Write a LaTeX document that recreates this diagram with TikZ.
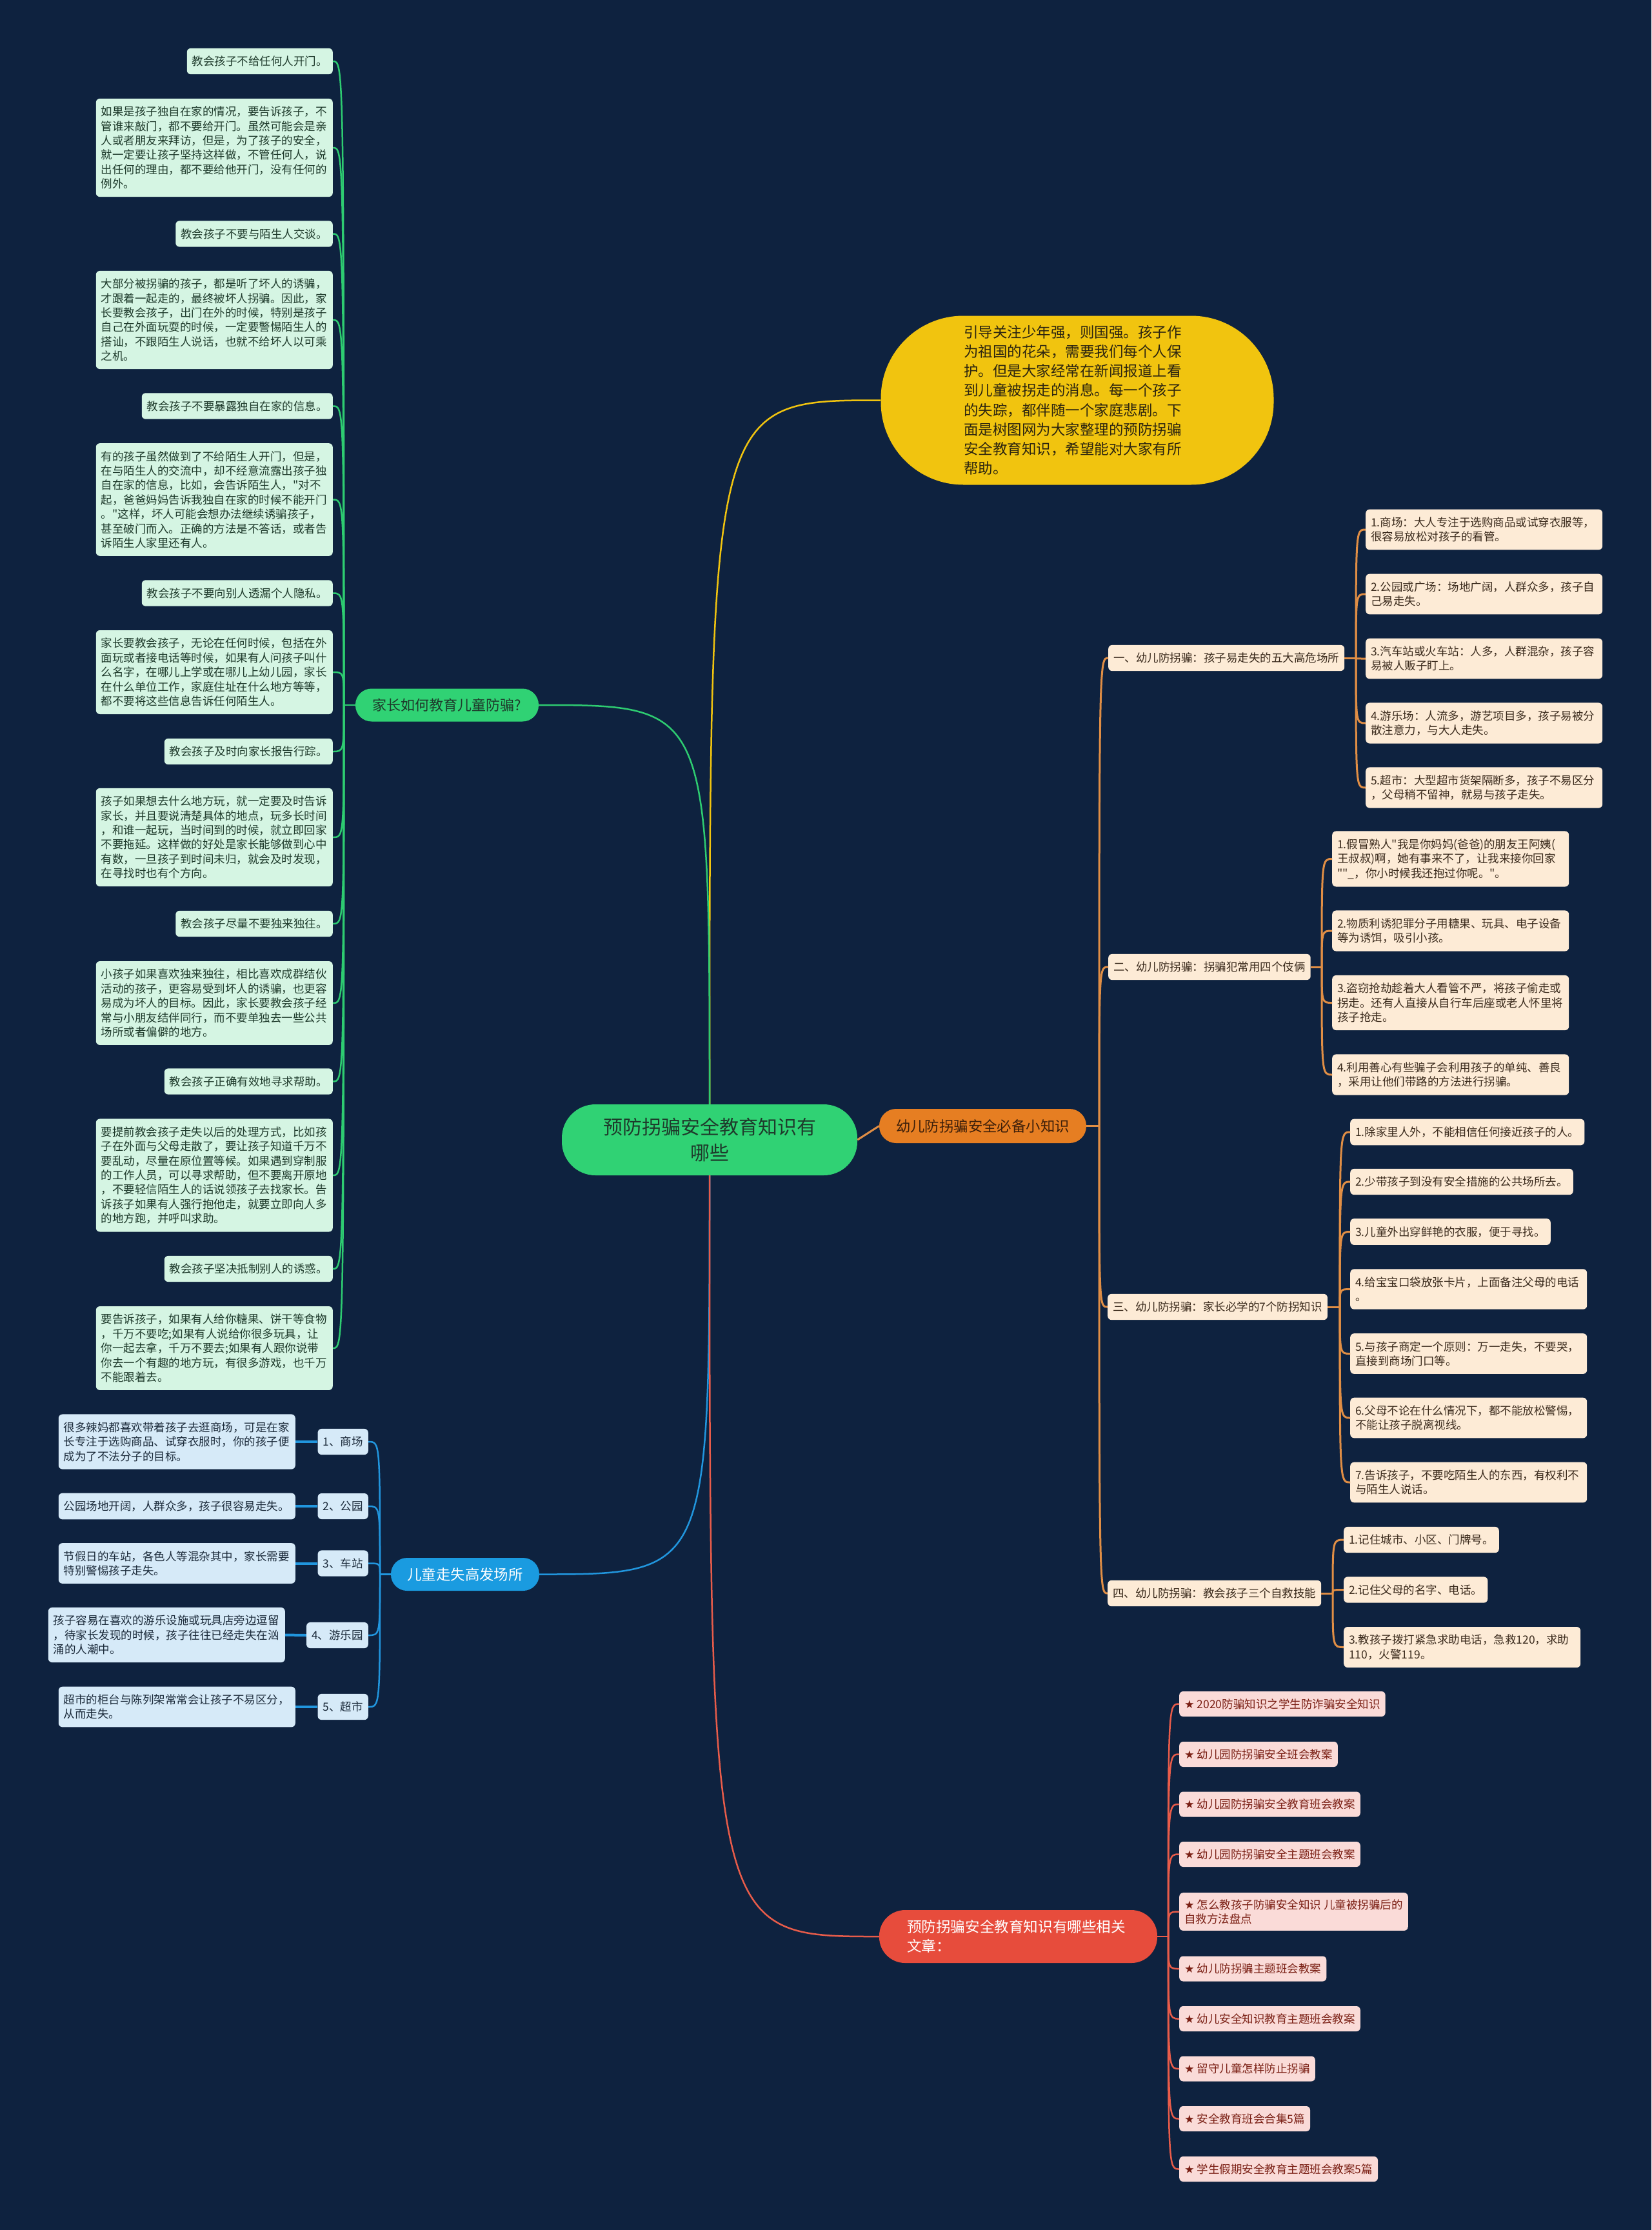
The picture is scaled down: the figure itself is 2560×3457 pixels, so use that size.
\documentclass[tikz,border=0pt]{standalone}
\usepackage{fontspec}
\newfontfamily\cjk{Noto Sans CJK SC}
\newfontfamily\symfont{DejaVu Sans}
\definecolor{bg}{HTML}{0E223F}
\definecolor{gline}{HTML}{2ECC71}
\definecolor{gfill}{HTML}{D5F5E3}
\definecolor{gtext}{HTML}{1E3A2B}
\definecolor{gnode}{HTML}{30D274}
\definecolor{yfill}{HTML}{F1C40F}
\definecolor{ytext}{HTML}{2B2410}
\definecolor{onodec}{HTML}{E67E22}
\definecolor{otextd}{HTML}{3D1F0A}
\definecolor{oline}{HTML}{E08E45}
\definecolor{ofill}{HTML}{FDEBD6}
\definecolor{otext}{HTML}{3A2A1C}
\definecolor{bnodec}{HTML}{1A9BE0}
\definecolor{bline}{HTML}{2196DE}
\definecolor{bfill}{HTML}{D6EAF8}
\definecolor{btext}{HTML}{1B2A3A}
\definecolor{rnodec}{HTML}{E74C3C}
\definecolor{rline}{HTML}{E85C4A}
\definecolor{rfill}{HTML}{FADBD8}
\definecolor{rtext}{HTML}{7A1F14}
\newcommand\lfnt{\cjk\fontsize{17.5pt}{22.4pt}\selectfont}
\begin{document}
\begin{tikzpicture}[x=1pt,y=-1pt,
  box/.style={rounded corners=6pt, inner xsep=8pt, inner ysep=12pt, minimum height=40pt, align=left, font=\lfnt},
  wide/.style={text width=351pt},
  gleaf/.style={box, fill=gfill, text=gtext},
  oleaf/.style={box, fill=ofill, text=otext},
  bleaf/.style={box, fill=bfill, text=btext},
  rleaf/.style={box, fill=rfill, text=rtext, inner ysep=10pt, minimum height=39pt},
  gl/.style={draw=gline, line width=2.5pt},
  ol/.style={draw=oline, line width=3pt},
  bl/.style={draw=bline, line width=2.5pt},
  blthick/.style={draw=bline, line width=4pt},
  rl/.style={draw=rline, line width=2.5pt},
  yl/.style={draw=yfill, line width=2.5pt},
  cnode/.style={fill=gnode, text=gtext, rounded corners=52pt, minimum width=458pt, minimum height=110pt, align=center, inner sep=0pt, font=\cjk\fontsize{30pt}{40pt}\selectfont},
  ynode/.style={fill=yfill, text=ytext, rounded corners=128pt, minimum width=609pt, minimum height=262pt, align=left, text width=352pt, inner sep=0pt, font=\cjk\fontsize{22.5pt}{30.2pt}\selectfont},
  gnodes/.style={fill=gnode, text=gtext, rounded corners=25pt, minimum width=284pt, minimum height=51pt, inner sep=0pt, font=\cjk\fontsize{22pt}{28pt}\selectfont},
  onodes/.style={fill=onodec, text=otextd, rounded corners=26pt, minimum width=321pt, minimum height=53pt, inner sep=0pt, font=\cjk\fontsize{22.4pt}{28pt}\selectfont},
  bnodes/.style={fill=bnodec, text=white, rounded corners=25pt, minimum width=230pt, minimum height=51pt, inner sep=0pt, font=\cjk\fontsize{22.4pt}{28pt}\selectfont},
  rnodes/.style={fill=rnodec, text=white, rounded corners=40pt, minimum width=431pt, minimum height=82pt, align=left, text width=345pt, inner sep=0pt, font=\cjk\fontsize{22.6pt}{29.6pt}\selectfont}
]
\useasboundingbox (0,0) rectangle (2560,3457);
\fill[bg] (0,0) rectangle (2560,3457);

% ---------- centre ----------
\node[cnode] (C) at (1100,1767) {预防拐骗安全教育知识有\\哪些};

% ---------- yellow ----------
\node[ynode] (Y) at (1670,620.5) {引导关注少年强，则国强。孩子作\\为祖国的花朵，需要我们每个人保\\护。但是大家经常在新闻报道上看\\到儿童被拐走的消息。每一个孩子\\的失踪，都伴随一个家庭悲剧。下\\面是树图网为大家整理的预防拐骗\\安全教育知识，希望能对大家有所\\帮助。};

% ---------- green ----------
\node[gnodes] (G) at (693,1093) {家长如何教育儿童防骗?};
\coordinate (gt) at (533,1093);
\node[gleaf, anchor=east] (L1) at (516,95) {教会孩子不给任何人开门。};
\node[gleaf, wide, anchor=east] (L2) at (516,229) {如果是孩子独自在家的情况，要告诉孩子，不\\管谁来敲门，都不要给开门。虽然可能会是亲\\人或者朋友来拜访，但是，为了孩子的安全，\\就一定要让孩子坚持这样做，不管任何人，说\\出任何的理由，都不要给他开门，没有任何的\\例外。};
\node[gleaf, anchor=east] (L3) at (516,362.5) {教会孩子不要与陌生人交谈。};
\node[gleaf, wide, anchor=east] (L4) at (516,496) {大部分被拐骗的孩子，都是听了坏人的诱骗，\\才跟着一起走的，最终被坏人拐骗。因此，家\\长要教会孩子，出门在外的时候，特别是孩子\\自己在外面玩耍的时候，一定要警惕陌生人的\\搭讪，不跟陌生人说话，也就不给坏人以可乘\\之机。};
\node[gleaf, anchor=east] (L5) at (516,629.5) {教会孩子不要暴露独自在家的信息。};
\node[gleaf, wide, anchor=east] (L6) at (516,774.5) {有的孩子虽然做到了不给陌生人开门，但是，\\在与陌生人的交流中，却不经意流露出孩子独\\自在家的信息，比如，会告诉陌生人，"对不\\起，爸爸妈妈告诉我独自在家的时候不能开门\\。"这样，坏人可能会想办法继续诱骗孩子，\\甚至破门而入。正确的方法是不答话，或者告\\诉陌生人家里还有人。};
\node[gleaf, anchor=east] (L7) at (516,919.5) {教会孩子不要向别人透漏个人隐私。};
\node[gleaf, wide, anchor=east] (L8) at (516,1042) {家长要教会孩子，无论在任何时候，包括在外\\面玩或者接电话等时候，如果有人问孩子叫什\\么名字，在哪儿上学或在哪儿上幼儿园，家长\\在什么单位工作，家庭住址在什么地方等等，\\都不要将这些信息告诉任何陌生人。};
\node[gleaf, anchor=east] (L9) at (516,1165) {教会孩子及时向家长报告行踪。};
\node[gleaf, wide, anchor=east] (L10) at (516,1298) {孩子如果想去什么地方玩，就一定要及时告诉\\家长，并且要说清楚具体的地点，玩多长时间\\，和谁一起玩，当时间到的时候，就立即回家\\不要拖延。这样做的好处是家长能够做到心中\\有数，一旦孩子到时间未归，就会及时发现，\\在寻找时也有个方向。};
\node[gleaf, anchor=east] (L11) at (516,1432) {教会孩子尽量不要独来独往。};
\node[gleaf, wide, anchor=east] (L12) at (516,1555) {小孩子如果喜欢独来独往，相比喜欢成群结伙\\活动的孩子，更容易受到坏人的诱骗，也更容\\易成为坏人的目标。因此，家长要教会孩子经\\常与小朋友结伴同行，而不要单独去一些公共\\场所或者偏僻的地方。};
\node[gleaf, anchor=east] (L13) at (516,1676.5) {教会孩子正确有效地寻求帮助。};
\node[gleaf, wide, anchor=east] (L14) at (516,1822) {要提前教会孩子走失以后的处理方式，比如孩\\子在外面与父母走散了，要让孩子知道千万不\\要乱动，尽量在原位置等候。如果遇到穿制服\\的工作人员，可以寻求帮助，但不要离开原地\\，不要轻信陌生人的话说领孩子去找家长。告\\诉孩子如果有人强行抱他走，就要立即向人多\\的地方跑，并呼叫求助。};
\node[gleaf, anchor=east] (L15) at (516,1967) {教会孩子坚决抵制别人的诱惑。};
\node[gleaf, wide, anchor=east] (L16) at (516,2090) {要告诉孩子，如果有人给你糖果、饼干等食物\\，千万不要吃;如果有人说给你很多玩具，让\\你一起去拿，千万不要去;如果有人跟你说带\\你去一个有趣的地方玩，有很多游戏，也千万\\不能跟着去。};

% ---------- orange ----------
\node[onodes] (O) at (1523.5,1745.5) {幼儿防拐骗安全必备小知识};
\coordinate (ot) at (1704,1745.5);
\node[oleaf, anchor=west] (O1) at (1718,1020) {一、幼儿防拐骗：孩子易走失的五大高危场所};
\node[oleaf, anchor=west] (O2) at (1718,1499) {二、幼儿防拐骗：拐骗犯常用四个伎俩};
\node[oleaf, anchor=west] (O3) at (1717,2026) {三、幼儿防拐骗：家长必学的7个防拐知识};
\node[oleaf, anchor=west] (O4) at (1717,2470) {四、幼儿防拐骗：教会孩子三个自救技能};

\coordinate (o1t) at (2102,1020);
\node[oleaf, wide, anchor=west] (A1) at (2117,821) {1.商场：大人专注于选购商品或试穿衣服等，\\很容易放松对孩子的看管。};
\node[oleaf, wide, anchor=west] (A2) at (2117,921) {2.公园或广场：场地广阔，人群众多，孩子自\\己易走失。};
\node[oleaf, wide, anchor=west] (A3) at (2117,1021) {3.汽车站或火车站：人多，人群混杂，孩子容\\易被人贩子盯上。};
\node[oleaf, wide, anchor=west] (A4) at (2117,1121) {4.游乐场：人流多，游艺项目多，孩子易被分\\散注意力，与大人走失。};
\node[oleaf, wide, anchor=west] (A5) at (2117,1221) {5.超市：大型超市货架隔断多，孩子不易区分\\，父母稍不留神，就易与孩子走失。};

\coordinate (o2t) at (2049,1499);
\node[oleaf, wide, anchor=west] (B1x) at (2065,1331.5) {1.假冒熟人"我是你妈妈(爸爸)的朋友王阿姨(\\王叔叔)啊，她有事来不了，让我来接你回家\\""\_，你小时候我还抱过你呢。"。};
\node[oleaf, wide, anchor=west] (B2x) at (2065,1443) {2.物质利诱犯罪分子用糖果、玩具、电子设备\\等为诱饵，吸引小孩。};
\node[oleaf, wide, anchor=west] (B3x) at (2065,1554.5) {3.盗窃抢劫趁着大人看管不严，将孩子偷走或\\拐走。还有人直接从自行车后座或老人怀里将\\孩子抢走。};
\node[oleaf, wide, anchor=west] (B4x) at (2065,1666) {4.利用善心有些骗子会利用孩子的单纯、善良\\，采用让他们带路的方法进行拐骗。};

\coordinate (o3t) at (2077,2026);
\node[oleaf, anchor=west] (E1) at (2093,1755) {1.除家里人外，不能相信任何接近孩子的人。};
\node[oleaf, anchor=west] (E2) at (2093,1832) {2.少带孩子到没有安全措施的公共场所去。};
\node[oleaf, anchor=west] (E3) at (2093,1909.5) {3.儿童外出穿鲜艳的衣服，便于寻找。};
\node[oleaf, wide, anchor=west] (E4) at (2093,1998.5) {4.给宝宝口袋放张卡片，上面备注父母的电话\\。};
\node[oleaf, wide, anchor=west] (E5) at (2093,2098.5) {5.与孩子商定一个原则：万一走失，不要哭，\\直接到商场门口等。};
\node[oleaf, wide, anchor=west] (E6) at (2093,2198) {6.父母不论在什么情况下，都不能放松警惕，\\不能让孩子脱离视线。};
\node[oleaf, wide, anchor=west] (E7) at (2093,2298) {7.告诉孩子，不要吃陌生人的东西，有权利不\\与陌生人说话。};

\coordinate (o4t) at (2066,2470);
\node[oleaf, anchor=west] (F1) at (2083,2387) {1.记住城市、小区、门牌号。};
\node[oleaf, anchor=west] (F2) at (2083,2464.5) {2.记住父母的名字、电话。};
\node[oleaf, wide, anchor=west] (F3) at (2083,2553.5) {3.教孩子拨打紧急求助电话，急救120，求助\\110，火警119。};

% ---------- blue ----------
\node[bnodes] (BN) at (721,2440.5) {儿童走失高发场所};
\coordinate (bt) at (589,2440.5);
\node[bleaf, anchor=east] (P1) at (571,2235) {1、商场};
\node[bleaf, anchor=east] (P2) at (571,2335) {2、公园};
\node[bleaf, anchor=east] (P3) at (571,2423.5) {3、车站};
\node[bleaf, anchor=east] (P4) at (571,2535) {4、游乐园};
\node[bleaf, anchor=east] (P5) at (571,2646) {5、超市};
\node[bleaf, wide, anchor=east] (Q1) at (458,2235) {很多辣妈都喜欢带着孩子去逛商场，可是在家\\长专注于选购商品、试穿衣服时，你的孩子便\\成为了不法分子的目标。};
\node[bleaf, wide, anchor=east] (Q2) at (458,2335) {公园场地开阔，人群众多，孩子很容易走失。};
\node[bleaf, wide, anchor=east] (Q3) at (458,2423.5) {节假日的车站，各色人等混杂其中，家长需要\\特别警惕孩子走失。};
\node[bleaf, wide, anchor=east] (Q4) at (442,2534.5) {孩子容易在喜欢的游乐设施或玩具店旁边逗留\\，待家长发现的时候，孩子往往已经走失在汹\\涌的人潮中。};
\node[bleaf, wide, anchor=east] (Q5) at (458,2646) {超市的柜台与陈列架常常会让孩子不易区分，\\从而走失。};

% ---------- red ----------
\node[rnodes] (RN) at (1578.5,3002) {预防拐骗安全教育知识有哪些相关\\文章：};
\coordinate (rt) at (1811,3002);
\node[rleaf, anchor=west] (R1) at (1828,2641.5) {{\symfont ★} 2020防骗知识之学生防诈骗安全知识};
\node[rleaf, anchor=west] (R2) at (1828,2719.5) {{\symfont ★} 幼儿园防拐骗安全班会教案};
\node[rleaf, anchor=west] (R3) at (1828,2797) {{\symfont ★} 幼儿园防拐骗安全教育班会教案};
\node[rleaf, anchor=west] (R4) at (1828,2874.5) {{\symfont ★} 幼儿园防拐骗安全主题班会教案};
\node[rleaf, anchor=west] (R5) at (1828,2963.5) {{\symfont ★} 怎么教孩子防骗安全知识 儿童被拐骗后的\\自救方法盘点};
\node[rleaf, anchor=west] (R6) at (1828,3052) {{\symfont ★} 幼儿防拐骗主题班会教案};
\node[rleaf, anchor=west] (R7) at (1828,3129.5) {{\symfont ★} 幼儿安全知识教育主题班会教案};
\node[rleaf, anchor=west] (R8) at (1828,3207) {{\symfont ★} 留守儿童怎样防止拐骗};
\node[rleaf, anchor=west] (R9) at (1828,3284.5) {{\symfont ★} 安全教育班会合集5篇};
\node[rleaf, anchor=west] (R10) at (1828,3362.5) {{\symfont ★} 学生假期安全教育主题班会教案5篇};

% ---------- connectors ----------
\draw[yl] (C.north) .. controls (C.north |- Y.west) .. (Y.west);
\draw[gl] (C.north) .. controls (C.north |- G.east) .. (G.east);
\draw[bl] (C.south) .. controls (C.south |- BN.east) .. (BN.east);
\draw[rl] (C.south) .. controls (C.south |- RN.west) .. (RN.west);
\draw[ol] (C.east) -- (O.west);

\draw[gl] (G.west) -- (gt);
\foreach \n in {L1,L2,L3,L4,L5,L6,L7,L8,L9,L10,L11,L12,L13,L14,L15,L16}
  \draw[gl] (gt) .. controls (gt |- \n.east) .. (\n.east);

\draw[ol] (O.east) -- (ot);
\foreach \n in {O1,O2,O3,O4}
  \draw[ol] (ot) .. controls (ot |- \n.west) .. (\n.west);
\draw[ol] (O1.east) -- (o1t);
\foreach \n in {A1,A2,A3,A4,A5}
  \draw[ol] (o1t) .. controls (o1t |- \n.west) .. (\n.west);
\draw[ol] (O2.east) -- (o2t);
\foreach \n in {B1x,B2x,B3x,B4x}
  \draw[ol] (o2t) .. controls (o2t |- \n.west) .. (\n.west);
\draw[ol] (O3.east) -- (o3t);
\foreach \n in {E1,E2,E3,E4,E5,E6,E7}
  \draw[ol] (o3t) .. controls (o3t |- \n.west) .. (\n.west);
\draw[ol] (O4.east) -- (o4t);
\foreach \n in {F1,F2,F3}
  \draw[ol] (o4t) .. controls (o4t |- \n.west) .. (\n.west);

\draw[bl] (BN.west) -- (bt);
\foreach \n in {P1,P2,P3,P4,P5}
  \draw[bl] (bt) .. controls (bt |- \n.east) .. (\n.east);
\draw[blthick] (Q1.east) -- (P1.west);
\draw[blthick] (Q2.east) -- (P2.west);
\draw[blthick] (Q3.east) -- (P3.west);
\draw[blthick] (Q4.east) -- (P4.west);
\draw[blthick] (Q5.east) -- (P5.west);

\draw[rl] (RN.east) -- (rt);
\foreach \n in {R1,R2,R3,R4,R5,R6,R7,R8,R9,R10}
  \draw[rl] (rt) .. controls (rt |- \n.west) .. (\n.west);
\end{tikzpicture}
\end{document}
